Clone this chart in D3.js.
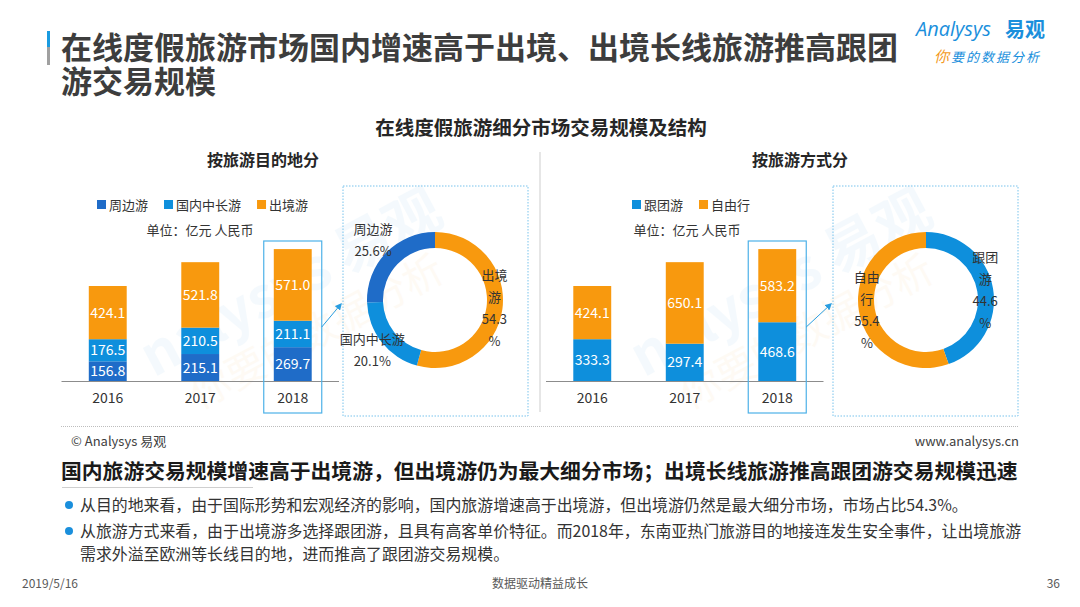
<!DOCTYPE html>
<html>
<head>
<meta charset="utf-8">
<title>在线度假旅游细分市场交易规模及结构</title>
<script src="https://d3js.org/d3.v7.min.js"></script>
<style>
  body { margin: 0; background: #fff; }
  svg { display: block; font-family: "Noto Sans CJK SC", "Noto Sans", sans-serif; }
</style>
</head>
<body>
<svg id="chart" width="1080" height="607"></svg>
<script>
// ---- data ----
const years = ["2016", "2017", "2018"];
// 按旅游目的地分 (亿元)
const zhoubian = [156.8, 215.1, 269.7];   // 周边游
const guonei = [176.5, 210.5, 211.1];     // 国内中长游
const chujing = [424.1, 521.8, 571.0];    // 出境游
// 按旅游方式分 (亿元)
const gentuan = [333.3, 297.4, 468.6];    // 跟团游
const ziyou = [424.1, 650.1, 583.2];      // 自由行
// 2018 结构 (%)
const destNames = ["出境游", "国内中长游", "周边游"];
const destShare = [54.3, 20.1, 25.6];
const modeNames = ["跟团游", "自由行"];
const modeShare = [44.6, 55.4];

const C_DARK = "#1f6cc8", C_BLUE = "#0e8fdc", C_ORANGE = "#f8990e";
const svg = d3.select("#chart");

// ---- page title ----
svg.append("rect").attr("x", 47).attr("y", 31).attr("width", 3).attr("height", 16).attr("fill", "#1a9be0");
svg.append("rect").attr("x", 47).attr("y", 47).attr("width", 3).attr("height", 18).attr("fill", "#a0a0a0");
svg.append("text").attr("x", 61).attr("y", 59).attr("fill", "#3d3d3d")
  .style("font-size", "31px").style("font-weight", "bold")
  .text("在线度假旅游市场国内增速高于出境、出境长线旅游推高跟团");
svg.append("text").attr("x", 61).attr("y", 93).attr("fill", "#3d3d3d")
  .style("font-size", "31px").style("font-weight", "bold")
  .text("游交易规模");

// logo
const logo = svg.append("g");
logo.append("text").attr("x", 916).attr("y", 36).attr("fill", "#1a8fdc")
  .style("font-size", "20px").style("font-family", "Open Sans, sans-serif").style("font-style", "italic")
  .text("Analysys");
logo.append("text").attr("x", 1005).attr("y", 37).attr("fill", "#1a8fdc")
  .style("font-size", "20px").style("font-weight", "bold").text("易观");
const slogan = logo.append("text").attr("x", 934).attr("y", 62).style("font-size", "13px").style("font-style", "italic");
slogan.append("tspan").attr("fill", "#f39a1e").style("font-size", "15px").text("你");
slogan.append("tspan").attr("fill", "#1a8fdc").attr("dx", 2).attr("letter-spacing", 2).text("要的数据分析");

// faint watermark
[[300, 300], [790, 300]].forEach(([wx, wy]) => {
  const w = svg.append("g").attr("transform", `translate(${wx},${wy}) rotate(-28)`).attr("opacity", 0.045);
  w.append("text").attr("text-anchor", "middle").attr("fill", "#1a8fdc")
    .style("font-size", "56px").style("font-weight", "bold").text("nalysys 易观");
  w.append("text").attr("y", 50).attr("text-anchor", "middle").attr("fill", "#f39a1e")
    .style("font-size", "40px").text("你要的数据分析");
});

// chart title
svg.append("text").attr("x", 541).attr("y", 135).attr("text-anchor", "middle").attr("fill", "#262626")
  .style("font-size", "19.5px").style("font-weight", "bold").text("在线度假旅游细分市场交易规模及结构");

// divider
svg.append("line").attr("x1", 540).attr("x2", 540).attr("y1", 152).attr("y2", 412)
  .attr("stroke", "#e6e6e6").attr("stroke-width", 2);

// ---- stacked bar panels ----
const y = d3.scaleLinear().domain([0, 1200]).range([381, 230.5]);

svg.append("defs").append("marker").attr("id", "arr").attr("viewBox", "0 0 10 10")
  .attr("refX", 8).attr("refY", 5).attr("markerWidth", 7).attr("markerHeight", 7).attr("orient", "auto")
  .append("path").attr("d", "M0,0L10,5L0,10z").attr("fill", "#2a9ee0");

function barPanel(opts) {
  const x = d3.scaleBand().domain(years).range(opts.range).paddingInner(0.59).paddingOuter(0.295);
  const g = svg.append("g");
  const rows = years.map((yr, i) => {
    const r = { year: yr };
    opts.series.forEach(s => r[s.name] = s.values[i]);
    return r;
  });
  const stack = d3.stack().keys(opts.series.map(s => s.name))(rows);
  const color = d3.scaleOrdinal().domain(opts.series.map(s => s.name)).range(opts.series.map(s => s.color));

  const layer = g.selectAll("g.layer").data(stack).join("g").attr("fill", d => color(d.key));
  layer.selectAll("rect").data(d => d).join("rect")
    .attr("x", d => x(d.data.year)).attr("width", x.bandwidth())
    .attr("y", d => y(d[1])).attr("height", d => y(d[0]) - y(d[1]));
  layer.selectAll("text").data(d => d).join("text")
    .attr("x", d => x(d.data.year) + x.bandwidth() / 2)
    .attr("y", d => (y(d[0]) + y(d[1])) / 2 + 5)
    .attr("text-anchor", "middle").attr("fill", "#fff").style("font-size", "14px")
    .text(d => (d[1] - d[0]).toFixed(1));

  // baseline + year axis
  const axis = g.append("g").attr("transform", `translate(0,${y(0)})`)
    .call(d3.axisBottom(x).tickSize(0).tickPadding(12));
  axis.select(".domain").attr("stroke", "#8c8c8c").attr("d", `M${opts.range[0]},0.5H${opts.range[1]}`);
  axis.selectAll("text").attr("fill", "#333").style("font-size", "14px")
    .style("font-family", "Noto Sans CJK SC, sans-serif");

  // highlight box for 2018
  const hx = x("2018") + x.bandwidth() / 2;
  g.append("rect").attr("x", hx - 29).attr("y", 241).attr("width", 58).attr("height", 172)
    .attr("fill", "none").attr("stroke", "#4db1e8").attr("stroke-width", 1.2);

  // legend
  const leg = g.append("g").attr("transform", `translate(${opts.legendX},205)`);
  let lx = 0;
  opts.series.forEach(s => {
    leg.append("rect").attr("x", lx).attr("y", -5).attr("width", 9).attr("height", 9).attr("fill", s.color);
    const t = leg.append("text").attr("x", lx + 12).attr("y", 5).attr("fill", "#333")
      .style("font-size", "13px").text(s.label);
    lx += 12 + t.node().getComputedTextLength() + 16;
  });
  g.append("text").attr("x", opts.unitX).attr("y", 235).attr("text-anchor", "middle").attr("fill", "#333")
    .style("font-size", "13px").text("单位：亿元 人民币");
  g.append("text").attr("x", opts.subX).attr("y", 166).attr("text-anchor", "middle").attr("fill", "#262626")
    .style("font-size", "16px").style("font-weight", "bold").text(opts.sub);

  // arrow to donut box
  g.append("line").attr("x1", hx + 29).attr("y1", 327).attr("x2", opts.boxX - 2).attr("y2", 304)
    .attr("stroke", "#2a9ee0").attr("stroke-width", 1).attr("marker-end", "url(#arr)");
}

barPanel({
  range: [61.5, 339],
  series: [
    { name: "zb", label: "周边游", values: zhoubian, color: C_DARK },
    { name: "gn", label: "国内中长游", values: guonei, color: C_BLUE },
    { name: "cj", label: "出境游", values: chujing, color: C_ORANGE }
  ],
  legendX: 97, unitX: 200, subX: 263, sub: "按旅游目的地分", boxX: 343
});
barPanel({
  range: [546, 823.5],
  series: [
    { name: "gt", label: "跟团游", values: gentuan, color: C_BLUE },
    { name: "zy", label: "自由行", values: ziyou, color: C_ORANGE }
  ],
  legendX: 632, unitX: 687, subX: 800, sub: "按旅游方式分", boxX: 833
});

// ---- donuts ----
function donut(opts) {
  svg.append("rect").attr("x", opts.boxX).attr("y", 186).attr("width", 185).attr("height", 230)
    .attr("fill", "none").attr("stroke", "#79c3ec").attr("stroke-dasharray", "1.5,1.5");
  const g = svg.append("g").attr("transform", `translate(${opts.cx},300)`);
  const pie = d3.pie().sort(null).value(d => d.v);
  const data = pie(opts.names.map((n, i) => ({ n, v: opts.values[i], c: opts.colors[i], lines: opts.lines[i], lr: opts.labelR[i] })));
  const arc = d3.arc().innerRadius(52).outerRadius(68);
  g.selectAll("path").data(data).join("path").attr("d", arc).attr("fill", d => d.data.c);
  data.forEach(d => {
    const la = d3.arc().innerRadius(d.data.lr).outerRadius(d.data.lr);
    const [lx, ly] = la.centroid(d);
    const lh = 22, n = d.data.lines.length;
    const t = g.append("text").attr("text-anchor", "middle").attr("fill", "#333").style("font-size", "13px");
    d.data.lines.forEach((s, k) => {
      t.append("tspan").attr("x", lx).attr("y", ly + (k - (n - 1) / 2) * lh + 5).text(s);
    });
  });
}
donut({
  boxX: 343, cx: 435, names: destNames, values: destShare,
  colors: [C_ORANGE, C_BLUE, C_DARK], labelR: [60, 80, 86],
  lines: [["出境", "游", destShare[0].toFixed(1), "%"], [destNames[1], destShare[1].toFixed(1) + "%"], [destNames[2], destShare[2].toFixed(1) + "%"]]
});
donut({
  boxX: 833, cx: 926, names: modeNames, values: modeShare,
  colors: [C_BLUE, C_ORANGE], labelR: [60, 60],
  lines: [["跟团", "游", modeShare[0].toFixed(1), "%"], ["自由", "行", modeShare[1].toFixed(1), "%"]]
});

// ---- source line ----
svg.append("line").attr("x1", 61).attr("x2", 1019).attr("y1", 426.5).attr("y2", 426.5)
  .attr("stroke", "#bdbdbd").attr("stroke-dasharray", "1,1");
svg.append("text").attr("x", 71).attr("y", 446).attr("fill", "#404040").style("font-size", "13px").text("© Analysys 易观");
svg.append("text").attr("x", 1019).attr("y", 446).attr("text-anchor", "end").attr("fill", "#404040")
  .style("font-size", "13px").text("www.analysys.cn");

// ---- summary ----
svg.append("text").attr("x", 61).attr("y", 479).attr("fill", "#1a1a1a")
  .style("font-size", "20.8px").style("font-weight", "bold")
  .text("国内旅游交易规模增速高于出境游，但出境游仍为最大细分市场；出境长线旅游推高跟团游交易规模迅速");
svg.append("line").attr("x1", 62).attr("x2", 253).attr("y1", 487.5).attr("y2", 487.5).attr("stroke", "#cfcfcf");

const bullets = [
  ["从目的地来看，由于国际形势和宏观经济的影响，国内旅游增速高于出境游，但出境游仍然是最大细分市场，市场占比54.3%。"],
  ["从旅游方式来看，由于出境游多选择跟团游，且具有高客单价特征。而2018年，东南亚热门旅游目的地接连发生安全事件，让出境旅游",
   "需求外溢至欧洲等长线目的地，进而推高了跟团游交易规模。"]
];
const bulletY = [511, 537];
bullets.forEach((lines, i) => {
  svg.append("circle").attr("cx", 69).attr("cy", bulletY[i] - 6).attr("r", 4).attr("fill", "#1a8fdc");
  lines.forEach((s, k) => {
    svg.append("text").attr("x", 80).attr("y", bulletY[i] + k * 23).attr("fill", "#333")
      .style("font-size", "15.9px").text(s);
  });
});

// ---- footer ----
svg.append("text").attr("x", 22).attr("y", 588).attr("fill", "#595959").style("font-size", "12px").text("2019/5/16");
svg.append("text").attr("x", 540).attr("y", 588).attr("text-anchor", "middle").attr("fill", "#595959")
  .style("font-size", "12px").text("数据驱动精益成长");
svg.append("text").attr("x", 1060).attr("y", 588).attr("text-anchor", "end").attr("fill", "#595959")
  .style("font-size", "12px").text("36");
</script>
</body>
</html>
